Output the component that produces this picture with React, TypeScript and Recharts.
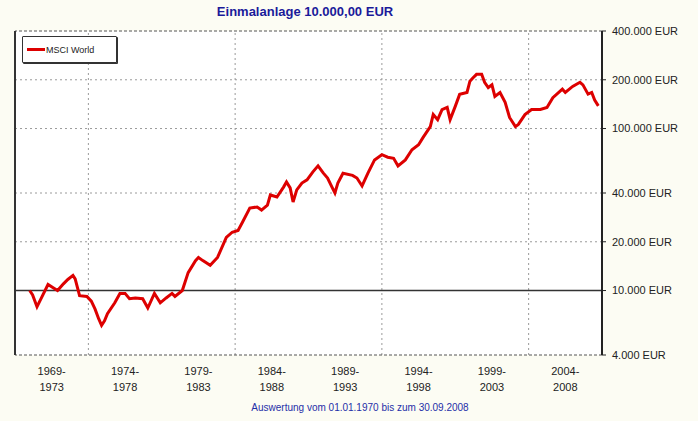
import React from "react";
import { LineChart, Line, XAxis, YAxis, ReferenceLine } from "recharts";

const years = [
  1970.0, 1970.2, 1970.5, 1970.8, 1971.25, 1971.6, 1971.9, 1972.3, 1972.6, 1972.95,
  1973.1, 1973.4, 1973.9, 1974.2, 1974.45, 1974.7, 1974.9, 1975.1, 1975.3, 1975.8,
  1976.15, 1976.5, 1976.8, 1977.2, 1977.7, 1978.05, 1978.5, 1978.9, 1979.3, 1979.7,
  1979.9, 1980.4, 1980.8, 1981.3, 1981.5, 1981.8, 1982.3, 1982.8, 1983.4, 1983.8,
  1984.2, 1984.5, 1985.0, 1985.5, 1985.8, 1986.2, 1986.4, 1986.85, 1987.3, 1987.5,
  1987.75, 1987.95, 1988.2, 1988.55, 1988.9, 1989.3, 1989.65, 1990.0, 1990.3, 1990.6,
  1990.8, 1991.0, 1991.35, 1992.0, 1992.3, 1992.65, 1993.05, 1993.5, 1994.0, 1994.4,
  1994.8, 1995.1, 1995.6, 1996.05, 1996.5, 1996.8, 1997.3, 1997.5, 1997.8, 1998.1,
  1998.45, 1998.65, 1999.0, 1999.3, 1999.8, 2000.0, 2000.2, 2000.45, 2000.8, 2001.0,
  2001.25, 2001.5, 2001.7, 2002.05, 2002.4, 2002.7, 2003.1, 2003.3, 2003.75, 2004.2,
  2004.8, 2005.25, 2005.65, 2006.3, 2006.5, 2007.0, 2007.5, 2007.7, 2008.05, 2008.3,
  2008.5, 2008.75,
];

const msciWorld = [
  10000, 9400, 7950, 9000, 10900, 10400, 10000, 11000, 11700, 12400,
  11800, 9300, 9200, 8600, 7700, 6700, 6100, 6500, 7200, 8400,
  9600, 9600, 8900, 9000, 8900, 7800, 9600, 8400, 9000, 9600,
  9200, 10000, 12900, 15300, 16000, 15300, 14300, 16000, 21300, 22900,
  23500, 26400, 32300, 32800, 31400, 33700, 38900, 37800, 43500, 46800,
  43000, 35200, 41800, 46100, 48200, 54000, 58800, 53200, 49500, 43500,
  40000, 46000, 53000, 51400, 49500, 44200, 53000, 64000, 68900, 66500,
  65500, 58800, 64000, 74000, 79500, 87900, 102800, 122000, 113500, 131000,
  135000, 113500, 137000, 162500, 167000, 196000, 205000, 216000, 216000, 193000,
  179000, 186000, 158000, 167000, 145000, 117000, 102800, 106000, 122000, 131000,
  131000, 135000, 155000, 175000, 167000, 182000, 193000, 186000, 163000, 167000,
  150000, 138000,
];

const periodLabels = [
  "1969-1973", "1974-1978", "1979-1983", "1984-1988",
  "1989-1993", "1994-1998", "1999-2003", "2004-2008",
];

const yTicks = [4000, 10000, 20000, 40000, 100000, 200000, 400000];
const gridYears = [1974, 1984, 1994, 2004];
const gridValues = [20000, 40000, 100000, 200000];

const title = "Einmalanlage 10.000,00 EUR";
const footer = "Auswertung vom 01.01.1970 bis zum 30.09.2008";
const seriesName = "MSCI World";

const data = years.map((y, i) => ({ year: y, value: msciWorld[i] }));
const periodStarts = periodLabels.map((l) => Number(l.split("-")[0]));
const xTicks = periodStarts.map((s) => s + 2.5);

const fmt = (v: number) =>
  String(v).replace(/\B(?=(\d{3})+(?!\d))/g, ".") + " EUR";

const FONT = "'Liberation Sans', Arial, sans-serif";

const XTick = (props: any) => {
  const { x, y, payload } = props;
  const idx = xTicks.indexOf(payload.value);
  const label = periodLabels[idx] || "";
  const [a, b] = label.split("-");
  return (
    <g>
      <text x={x} y={y + 20} textAnchor="middle" fontSize={11} fill="#222" fontFamily={FONT}>
        {a + "-"}
      </text>
      <text x={x} y={y + 36} textAnchor="middle" fontSize={11} fill="#222" fontFamily={FONT}>
        {b}
      </text>
    </g>
  );
};

export default function App() {
  return (
    <div
      style={{
        position: "absolute",
        left: 0,
        top: 0,
        width: 698,
        height: 421,
        background: "#fcfcf3",
        fontFamily: FONT,
        overflow: "hidden",
      }}
    >
      <div
        style={{
          position: "absolute",
          left: 15,
          top: 31,
          width: 587,
          height: 324,
          background: "#ffffff",
        }}
      />
      <div
        style={{
          position: "absolute",
          left: 305,
          top: 4,
          transform: "translateX(-50%)",
          whiteSpace: "nowrap",
          color: "#1a1a9a",
          fontWeight: "bold",
          fontSize: 13,
        }}
      >
        {title}
      </div>
      <div style={{ position: "absolute", left: 0, top: 0 }}>
        <LineChart
          width={698}
          height={421}
          data={data}
          margin={{ top: 31, right: 0, bottom: 0, left: 15 }}
        >
          <XAxis
            dataKey="year"
            type="number"
            domain={[1969, 2009]}
            ticks={xTicks}
            tick={<XTick />}
            tickLine={false}
            axisLine={false}
            tickSize={0}
            tickMargin={0}
            height={66}
            interval={0}
            allowDataOverflow
          />
          <YAxis
            orientation="right"
            scale="log"
            domain={[4000, 400000]}
            ticks={yTicks}
            tickFormatter={fmt}
            width={96}
            allowDataOverflow
            interval={0}
            tick={{ fontSize: 11, fill: "#222", fontFamily: FONT, textAnchor: "start" }}
            tickSize={4}
            tickMargin={6}
            tickLine={{ stroke: "#222" }}
            axisLine={{ stroke: "#222", strokeWidth: 2 }}
          />
          {gridValues.map((v) => (
            <ReferenceLine key={"h" + v} y={v} stroke="#9a9a9a" strokeDasharray="2 3" />
          ))}
          {gridYears.map((v) => (
            <ReferenceLine key={"v" + v} x={v} stroke="#9a9a9a" strokeDasharray="2 3" />
          ))}
          <ReferenceLine y={400000} stroke="#555" strokeDasharray="3 2" />
          <ReferenceLine y={4000} stroke="#555" strokeDasharray="3 2" />
          <ReferenceLine x={1969} stroke="#333" strokeWidth={2} />
          <ReferenceLine y={10000} stroke="#333" strokeWidth={1.5} />
          <Line
            dataKey="value"
            type="linear"
            stroke="#dd0000"
            strokeWidth={3}
            dot={false}
            isAnimationActive={false}
          />
        </LineChart>
      </div>
      <div
        style={{
          position: "absolute",
          left: 22,
          top: 36,
          width: 93,
          height: 25,
          background: "#ffffff",
          border: "1px solid #333",
          boxShadow: "1px 1px 0 #333",
          borderRadius: 1,
          display: "flex",
          alignItems: "center",
          fontSize: 9,
          color: "#222",
        }}
      >
        <div style={{ width: 18, height: 3, background: "#dd0000", marginLeft: 4, marginRight: 1 }} />
        <span>{seriesName}</span>
      </div>
      <div
        style={{
          position: "absolute",
          left: 360,
          top: 402,
          transform: "translateX(-50%)",
          whiteSpace: "nowrap",
          color: "#1f2fa8",
          fontSize: 10,
        }}
      >
        {footer}
      </div>
    </div>
  );
}
